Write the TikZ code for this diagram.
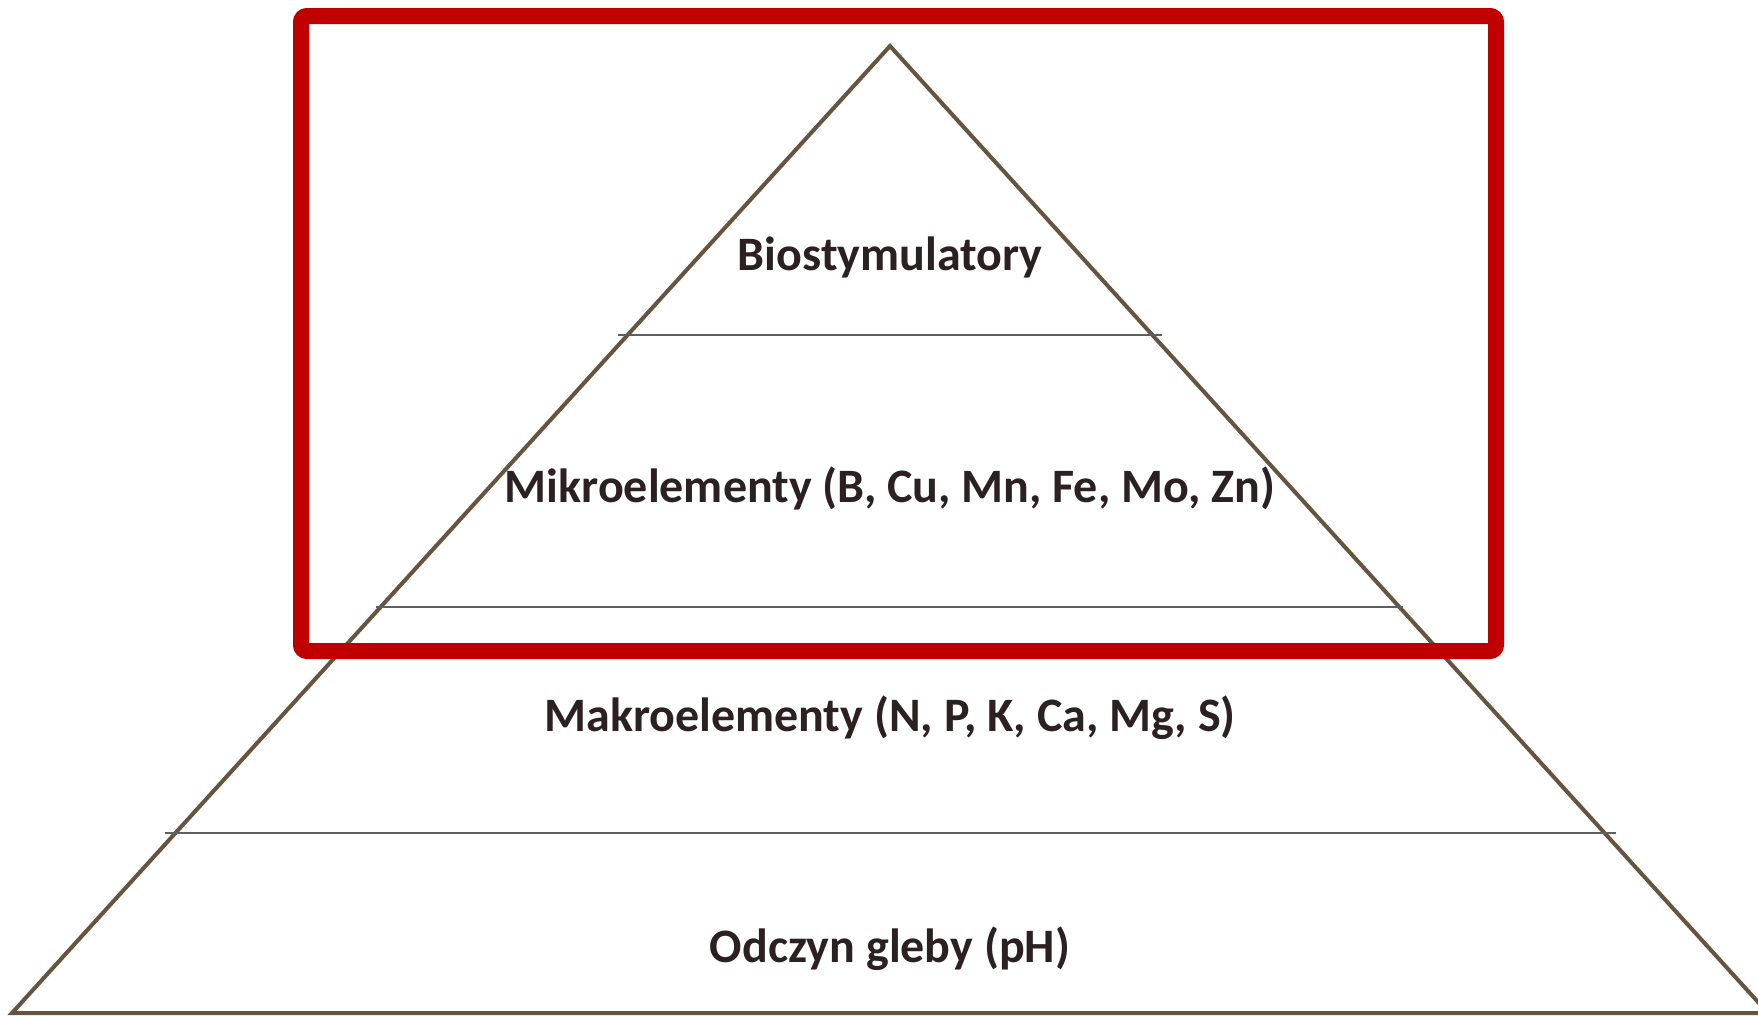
\documentclass[tikz,border=0pt]{standalone}
\usepackage{fontspec}
\setmainfont{Carlito}
\definecolor{tribrown}{HTML}{65553E}
\definecolor{boxred}{HTML}{C00000}
\definecolor{txt}{HTML}{2B2022}
\definecolor{sep}{HTML}{5F5F5F}
\begin{document}
\begin{tikzpicture}[x=1pt,y=-1pt,
  label/.style={anchor=base,font=\fontsize{48}{52}\selectfont\bfseries,text=txt,inner sep=0pt},
  sepline/.style={draw=sep,line width=1.6pt},
  tri/.style={draw=tribrown,line width=4pt,line join=miter}]
\useasboundingbox (0,0) rectangle (1758,1015);
\coordinate (apex) at (890,46);
\coordinate (bl) at (12,1013);
\coordinate (br) at (1768,1013);
\draw[tri] (bl) -- (apex) -- (br) -- cycle;
\coordinate (s1a) at (618,335); \coordinate (s1b) at (1162,335);
\coordinate (s2a) at (376,607); \coordinate (s2b) at (1403,607);
\coordinate (s3a) at (165,833); \coordinate (s3b) at (1616,833);
\draw[sepline] (s1a) -- (s1b);
\draw[sepline] (s2a) -- (s2b);
\draw[sepline] (s3a) -- (s3b);
\node[label] (bio) at (890,270) {Biostymulatory};
\node[label] (mikro) at (890,502) {Mikroelementy (B, Cu, Mn, Fe, Mo, Zn)};
\node[label] (makro) at (890,731) {Makroelementy (N, P, K, Ca, Mg, S)};
\node[label] (odczyn) at (890,962) {Odczyn gleby (pH)};
\draw[boxred,line width=16pt,rounded corners=6pt] (301,16) rectangle (1496,651);
\end{tikzpicture}
\end{document}
